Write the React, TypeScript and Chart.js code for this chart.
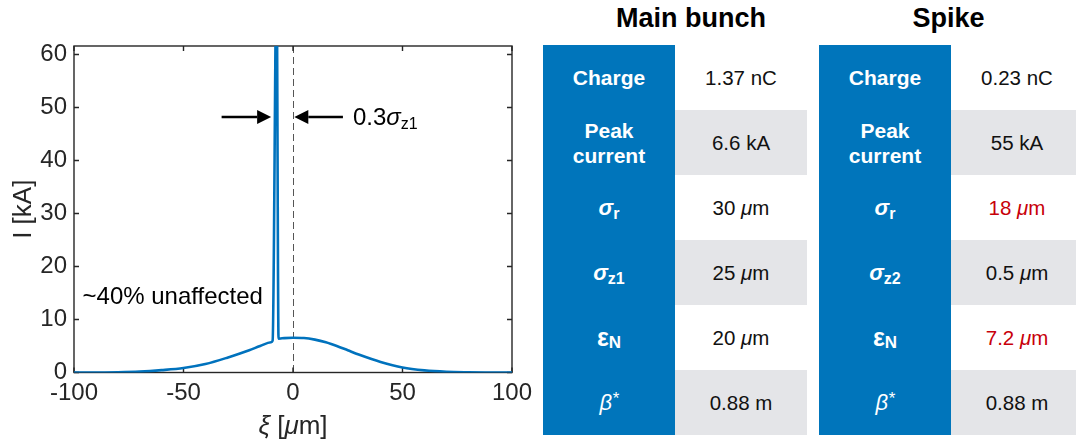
import React, { useEffect, useRef } from "react";
import { Chart, registerables } from "chart.js";
Chart.register(...registerables);

const FONT = '"Liberation Sans", Arial, Helvetica, sans-serif';

// ---- chart data: current profile I(ξ) ----
const xiValues = [-100, -90, -80, -70, -60, -50, -40, -30, -20, -15, -10, -9.3, -7.5, -6.6, -5, 0, 5, 10, 15, 20, 25, 30, 40, 50, 60, 70, 80, 90, 100];
const currentValues = [0, 0.01, 0.05, 0.17, 0.45, 0.85, 1.6, 2.8, 4.2, 5.0, 5.7, 6.0, 75, 6.4, 6.45, 6.55, 6.5, 6.2, 5.7, 5.0, 4.2, 3.4, 2.0, 0.95, 0.4, 0.13, 0.04, 0.01, 0];

const xTicks = [-100, -50, 0, 50, 100];
const yTicks = [0, 10, 20, 30, 40, 50, 60];
const X_MIN = -100;
const X_MAX = 100;
const Y_MIN = 0;
const Y_MAX = 61.6;

// ---- annotations (data units) ----
const markerX = 0;
const arrowY = 48.2;
const arrowLeft = [-32.6, -10.0];
const arrowRight = [22.8, 0.6];
const widthLabelX = 27.4;
const unaffectedX = -96.1;
const unaffectedY = 14.1;

// ---- table data ----
const tableTitles = ["Main bunch", "Spike"];
const mainLabels = ["Charge", "Peak current", "σ_r", "σ_z1", "ε_N", "β^*"];
const spikeLabels = ["Charge", "Peak current", "σ_r", "σ_z2", "ε_N", "β^*"];
const mainValues = ["1.37 nC", "6.6 kA", "30 μm", "25 μm", "20 μm", "0.88 m"];
const spikeValues = ["0.23 nC", "55 kA", "18 μm", "0.5 μm", "7.2 μm", "0.88 m"];
const mainRed = [false, false, false, false, false, false];
const spikeRed = [false, false, true, false, true, false];

const LINE_BLUE = "#0072BD";
const TABLE_BLUE = "#0075BB";
const GREY = "#E4E5E8";
const RED = "#C8000A";
const AXIS = "#262626";

type Seg = { t: string; italic?: boolean; size: number; dy?: number };

function drawSegs(ctx: CanvasRenderingContext2D, segs: Seg[], x: number, y: number) {
  let cx = x;
  for (const s of segs) {
    ctx.font = `${s.italic ? "italic " : ""}${s.size}px ${FONT}`;
    ctx.fillText(s.t, cx, y + (s.dy || 0));
    cx += ctx.measureText(s.t).width;
  }
}
function segsWidth(ctx: CanvasRenderingContext2D, segs: Seg[]) {
  let w = 0;
  for (const s of segs) {
    ctx.font = `${s.italic ? "italic " : ""}${s.size}px ${FONT}`;
    w += ctx.measureText(s.t).width;
  }
  return w;
}

function drawArrow(ctx: CanvasRenderingContext2D, x1: number, y: number, x2: number) {
  const dir = Math.sign(x2 - x1);
  const head = 14;
  const half = 7;
  ctx.beginPath();
  ctx.lineWidth = 2.6;
  ctx.moveTo(x1, y);
  ctx.lineTo(x2 - dir * head, y);
  ctx.stroke();
  ctx.beginPath();
  ctx.moveTo(x2, y);
  ctx.lineTo(x2 - dir * head, y - half);
  ctx.lineTo(x2 - dir * head, y + half);
  ctx.closePath();
  ctx.fill();
}

const decorPlugin = {
  id: "decor",
  beforeDatasetsDraw(chart: any) {
    const { ctx, chartArea: a, scales } = chart;
    const x = scales.x;
    const y = scales.y;
    ctx.save();
    const px0 = Math.round(x.getPixelForValue(markerX)) + 0.5;
    ctx.strokeStyle = "#555";
    ctx.lineWidth = 1;
    ctx.setLineDash([7, 4]);
    ctx.beginPath();
    ctx.moveTo(px0, a.top);
    ctx.lineTo(px0, a.bottom);
    ctx.stroke();
    ctx.setLineDash([]);
    ctx.strokeStyle = AXIS;
    ctx.lineWidth = 1.4;
    ctx.strokeRect(a.left, a.top, a.right - a.left, a.bottom - a.top);
    const tl = 5;
    ctx.beginPath();
    xTicks.forEach((v) => {
      const p = x.getPixelForValue(v);
      ctx.moveTo(p, a.bottom);
      ctx.lineTo(p, a.bottom - tl);
      ctx.moveTo(p, a.top);
      ctx.lineTo(p, a.top + tl);
    });
    yTicks.forEach((v) => {
      const p = y.getPixelForValue(v);
      ctx.moveTo(a.left, p);
      ctx.lineTo(a.left + tl, p);
      ctx.moveTo(a.right, p);
      ctx.lineTo(a.right - tl, p);
    });
    ctx.stroke();
    ctx.restore();
  },
  afterDatasetsDraw(chart: any) {
    const { ctx, chartArea: a, scales } = chart;
    const x = scales.x;
    const y = scales.y;
    ctx.save();
    ctx.fillStyle = "#000";
    ctx.strokeStyle = "#000";
    const ay = y.getPixelForValue(arrowY);
    drawArrow(ctx, x.getPixelForValue(arrowLeft[0]), ay, x.getPixelForValue(arrowLeft[1]));
    drawArrow(ctx, x.getPixelForValue(arrowRight[0]), ay, x.getPixelForValue(arrowRight[1]));
    ctx.textBaseline = "alphabetic";
    ctx.textAlign = "left";
    drawSegs(
      ctx,
      [
        { t: "0.3", size: 24 },
        { t: "σ", size: 24, italic: true },
        { t: "z1", size: 16, dy: 4 },
      ],
      x.getPixelForValue(widthLabelX),
      ay + 8
    );
    ctx.textBaseline = "middle";
    ctx.font = `24px ${FONT}`;
    ctx.fillText("~40% unaffected", x.getPixelForValue(unaffectedX), y.getPixelForValue(unaffectedY));

    // axis titles
    ctx.fillStyle = AXIS;
    ctx.textBaseline = "alphabetic";
    const xt: Seg[] = [
      { t: "ξ", size: 26, italic: true },
      { t: " [", size: 26 },
      { t: "μ", size: 26, italic: true },
      { t: "m]", size: 26 },
    ];
    const w = segsWidth(ctx, xt);
    drawSegs(ctx, xt, (a.left + a.right) / 2 - w / 2, 434);

    ctx.translate(31, (a.top + a.bottom) / 2);
    ctx.rotate(-Math.PI / 2);
    ctx.textAlign = "center";
    ctx.font = `26px ${FONT}`;
    ctx.fillText("I [kA]", 0, 0);
    ctx.restore();
  },
};

function ChartPanel() {
  const ref = useRef<HTMLCanvasElement | null>(null);
  useEffect(() => {
    if (!ref.current) return;
    const chart = new Chart(ref.current, {
      type: "line",
      data: {
        datasets: [
          {
            data: xiValues.map((v, i) => ({ x: v, y: currentValues[i] })),
            borderColor: LINE_BLUE,
            borderWidth: 2.6,
            pointRadius: 0,
            cubicInterpolationMode: "monotone",
            fill: false,
          },
        ],
      },
      options: {
        animation: false,
        responsive: false,
        devicePixelRatio: 1,
        layout: { padding: { top: 46, right: 28, left: 0, bottom: 0 } },
        plugins: { legend: { display: false }, tooltip: { enabled: false } },
        scales: {
          x: {
            type: "linear",
            min: X_MIN,
            max: X_MAX,
            grid: { display: false, drawTicks: false },
            border: { display: false },
            ticks: {
              font: { size: 24, family: FONT },
              color: AXIS,
              padding: 6,
              maxRotation: 0,
              includeBounds: false,
            },
            afterBuildTicks: (s: any) => {
              s.ticks = xTicks.map((v) => ({ value: v }));
            },
            afterFit: (s: any) => {
              s.height = 70.5;
            },
          },
          y: {
            type: "linear",
            min: Y_MIN,
            max: Y_MAX,
            grid: { display: false, drawTicks: false },
            border: { display: false },
            ticks: {
              font: { size: 24, family: FONT },
              color: AXIS,
              padding: 7,
              includeBounds: false,
            },
            afterBuildTicks: (s: any) => {
              s.ticks = yTicks.map((v) => ({ value: v }));
            },
            afterFit: (s: any) => {
              s.width = 74;
            },
          },
        },
      },
      plugins: [decorPlugin],
    } as any);
    return () => chart.destroy();
  }, []);
  return (
    <canvas
      ref={ref}
      width={540}
      height={443}
      style={{ position: "absolute", left: 0, top: 0, width: 540, height: 443 }}
    />
  );
}

function Label({ s }: { s: string }) {
  if (s === "Peak current") {
    return (
      <div style={{ lineHeight: "25px", fontWeight: 700, fontSize: 21 }}>
        Peak
        <br />
        current
      </div>
    );
  }
  if (s.includes("_")) {
    const [base, sub] = s.split("_");
    const italic = base === "σ";
    return (
      <div style={{ fontWeight: 700 }}>
        <span style={{ fontSize: italic ? 22 : 25, fontStyle: italic ? "italic" : "normal" }}>{base}</span>
        <span style={{ fontSize: italic ? 16 : 17, position: "relative", top: italic ? 4 : 2 }}>{sub}</span>
      </div>
    );
  }
  if (s.includes("^")) {
    const [base, sup] = s.split("^");
    return (
      <div style={{ fontWeight: 400, fontStyle: "italic" }}>
        <span style={{ fontSize: 22 }}>{base}</span>
        <span style={{ fontSize: 17, position: "relative", top: -6 }}>{sup}</span>
      </div>
    );
  }
  return <div style={{ fontWeight: 700, fontSize: 21 }}>{s}</div>;
}

function Value({ s }: { s: string }) {
  const parts = s.split("μ");
  return (
    <span>
      {parts.map((p, i) => (
        <React.Fragment key={i}>
          {i > 0 && <i>μ</i>}
          {p}
        </React.Fragment>
      ))}
    </span>
  );
}

const ROW_H = 65;
const COL_W = 132;

function Table({ left, labels, values, red }: { left: number; labels: string[]; values: string[]; red: boolean[] }) {
  return (
    <div style={{ position: "absolute", left, top: 45, display: "flex" }}>
      <div style={{ width: COL_W, background: TABLE_BLUE, color: "#fff" }}>
        {labels.map((l, i) => (
          <div
            key={i}
            style={{ height: ROW_H, display: "flex", alignItems: "center", justifyContent: "center", textAlign: "center" }}
          >
            <Label s={l} />
          </div>
        ))}
      </div>
      <div style={{ width: COL_W }}>
        {values.map((v, i) => (
          <div
            key={i}
            style={{
              height: ROW_H,
              display: "flex",
              alignItems: "center",
              justifyContent: "center",
              background: i % 2 === 1 ? GREY : "#fff",
              color: red[i] ? RED : "#111",
              fontSize: 20.5,
            }}
          >
            <Value s={v} />
          </div>
        ))}
      </div>
    </div>
  );
}

export default function App() {
  return (
    <div
      style={{
        position: "fixed",
        left: 0,
        top: 0,
        width: 1076,
        height: 443,
        overflow: "hidden",
        background: "#fff",
        fontFamily: FONT,
      }}
    >
      <ChartPanel />
      {[691, 948.5].map((cx, i) => (
        <div
          key={i}
          style={{
            position: "absolute",
            left: cx - 150,
            width: 300,
            top: 3,
            textAlign: "center",
            fontWeight: 700,
            fontSize: 27,
            color: "#000",
          }}
        >
          {tableTitles[i]}
        </div>
      ))}
      <Table left={543} labels={mainLabels} values={mainValues} red={mainRed} />
      <Table left={819} labels={spikeLabels} values={spikeValues} red={spikeRed} />
    </div>
  );
}
